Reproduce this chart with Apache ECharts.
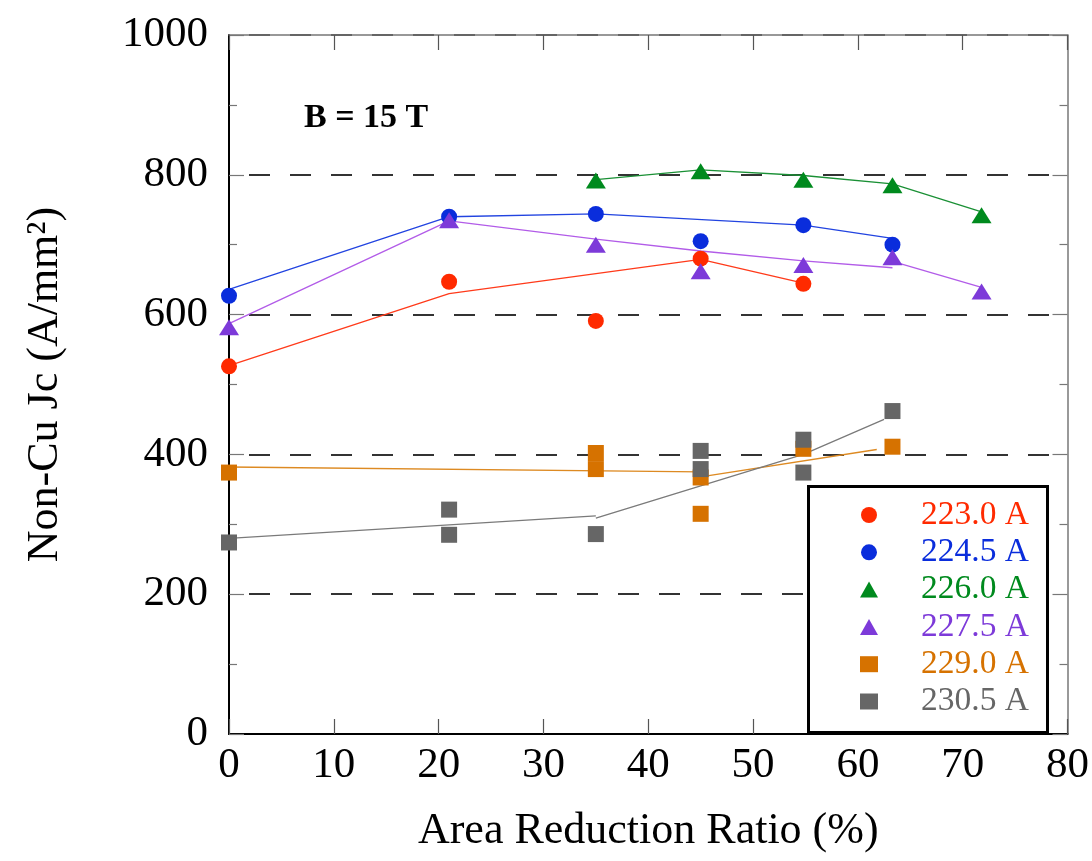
<!DOCTYPE html>
<html>
<head>
<meta charset="utf-8">
<script src="https://cdn.jsdelivr.net/npm/echarts@6/dist/echarts.min.js"></script>
<style>
html,body{margin:0;padding:0;background:#fff;}
#chart{width:1092px;height:861px;}
</style>
</head>
<body>
<div id="chart"></div>
<script>
// ---- data ----
const seriesNames = ['223.0 A', '224.5 A', '226.0 A', '227.5 A', '229.0 A', '230.5 A'];
const seriesColors = ['#ff2a00', '#0a2ddc', '#008a1e', '#7d3ad9', '#d67200', '#666666'];
const lineColors = ['#ff3a1a', '#2244e0', '#1a9035', '#b25ce8', '#dd8a22', '#7a7a7a'];
const seriesSymbols = ['circle', 'circle', 'triangle', 'triangle', 'rect', 'rect'];

// measured points [area reduction %, Jc]
const pts223 = [[0, 526], [21, 647], [35, 591], [45, 680], [54.8, 644]];
const pts224 = [[0, 627], [21, 740], [35, 744], [45, 705], [54.8, 728], [63.3, 700]];
const pts226 = [[35, 792], [45, 805], [54.8, 793], [63.3, 785], [71.8, 742]];
const pts227 = [[0, 582], [21, 735], [35, 700], [45, 662], [54.8, 671], [63.3, 682], [71.8, 633]];
const pts229 = [[0, 374], [35, 402], [35, 379], [45, 367], [45, 315], [54.8, 408], [63.3, 411]];
const pts230 = [[0, 274], [21, 321], [21, 285], [35, 286], [45, 405], [45, 379], [54.8, 421], [54.8, 374], [63.3, 462]];

// fit curves (segments) drawn as thin lines
const fit223 = [[[0, 527], [21, 630], [45, 679], [54.8, 645]]];
const fit224 = [[[0, 636], [21, 740], [35, 744], [54.8, 728], [63.3, 709]]];
const fit226 = [[[35, 793], [45, 807], [54.8, 799], [63.3, 787], [71.8, 747]]];
const fit227 = [[[0, 587], [21, 734], [35, 708], [45, 691], [54.8, 677], [63.3, 667]], [[63.3, 676], [71.8, 639]]];
const fit229 = [[[0, 382], [45, 375]], [[45, 368], [61.8, 407]]];
const fit230 = [[[0, 280], [35, 312]], [[35, 309], [45, 355], [54.8, 400], [62.5, 450]]];

const xTickMin = 0, xTickMax = 80, xTickStep = 10;
const yTickMin = 0, yTickMax = 1000, yTickStep = 200;

const allPts = [pts223, pts224, pts226, pts227, pts229, pts230];
const allFits = [fit223, fit224, fit226, fit227, fit229, fit230];

const FONT = "'Liberation Serif', 'Times New Roman', serif";

const chart = echarts.init(document.getElementById('chart'), null, {renderer: 'canvas'});

const series = [];
allFits.forEach((segs, i) => {
  segs.forEach((seg, j) => {
    series.push({
      name: seriesNames[i] + ' fit ' + j,
      type: 'line',
      data: seg,
      symbol: 'none',
      showSymbol: false,
      silent: true,
      z: 2,
      lineStyle: {color: lineColors[i], width: 1.3}
    });
  });
});
allPts.forEach((pts, i) => {
  series.push({
    name: seriesNames[i],
    type: 'scatter',
    data: pts,
    symbol: seriesSymbols[i],
    symbolSize: seriesSymbols[i] === 'triangle' ? [20, 16] : 16,
    itemStyle: {color: seriesColors[i], opacity: 1},
    z: 3
  });
});

const option = {
  animation: false,
  backgroundColor: '#fff',
  textStyle: {fontFamily: FONT},
  title: {
    text: 'B = 15 T',
    left: 304, top: 101, padding: 0,
    textStyle: {fontFamily: FONT, fontSize: 34, fontWeight: 'bold', color: '#000', lineHeight: 34}
  },
  grid: {left: 229, right: 22, top: 35, bottom: 127, containLabel: false},
  legend: {
    orient: 'vertical',
    left: 860, top: 496.5, padding: 0,
    itemWidth: 18, itemHeight: 16, itemGap: 0.3,
    z: 60,
    selectedMode: false,
    textStyle: {fontFamily: FONT, fontSize: 33.5, lineHeight: 37, padding: [0, 0, 0, 38]},
    data: seriesNames.map((n, i) => ({name: n, textStyle: {color: seriesColors[i]}}))
  },
  graphic: [{
    type: 'rect', z: 50,
    shape: {x: 808.5, y: 486.5, width: 239, height: 246},
    style: {fill: '#fff', stroke: '#000', lineWidth: 3}
  }],
  xAxis: [{
    type: 'value', min: xTickMin, max: xTickMax, interval: xTickStep, position: 'bottom',
    axisLine: {show: true, onZero: false, lineStyle: {color: '#000', width: 2}},
    axisTick: {show: true, inside: true, length: 15, lineStyle: {color: '#555', width: 1.2}},
    axisLabel: {fontFamily: FONT, fontSize: 43, color: '#000', margin: 10, formatter: v => String(v)},
    splitLine: {show: false},
    name: 'Area Reduction Ratio (%)', nameLocation: 'middle', nameGap: 75,
    nameTextStyle: {fontFamily: FONT, fontSize: 44, color: '#000'}
  }, {
    type: 'value', min: xTickMin, max: xTickMax, interval: xTickStep, position: 'top',
    axisLine: {show: true, onZero: false, lineStyle: {color: '#777', width: 1.5}},
    axisTick: {show: true, inside: true, length: 15, lineStyle: {color: '#555', width: 1.2}},
    axisLabel: {show: false}, splitLine: {show: false}
  }],
  yAxis: [{
    type: 'value', min: yTickMin, max: yTickMax, interval: yTickStep, position: 'left',
    axisLine: {show: true, onZero: false, lineStyle: {color: '#000', width: 2}},
    axisTick: {show: true, inside: true, length: 15, lineStyle: {color: '#777', width: 1.2}},
    minorTick: {show: true, splitNumber: 2, length: 8, lineStyle: {color: '#777', width: 1.2}},
    axisLabel: {fontFamily: FONT, fontSize: 43, color: '#000', margin: 21, formatter: v => String(v)},
    splitLine: {show: true, lineStyle: {color: '#333', width: 2, type: [21, 20], dashOffset: 21}},
    name: 'Non-Cu Jc (A/mm²)', nameLocation: 'middle', nameGap: 162, nameRotate: 90,
    nameTextStyle: {fontFamily: FONT, fontSize: 44, color: '#000'}
  }, {
    type: 'value', min: yTickMin, max: yTickMax, interval: yTickStep, position: 'right',
    axisLine: {show: true, onZero: false, lineStyle: {color: '#777', width: 1.5}},
    axisTick: {show: true, inside: true, length: 15, lineStyle: {color: '#777', width: 1.2}},
    minorTick: {show: true, splitNumber: 2, length: 8, lineStyle: {color: '#777', width: 1.2}},
    axisLabel: {show: false}, splitLine: {show: false}
  }],
  series: series
};
chart.setOption(option);
</script>
</body>
</html>
